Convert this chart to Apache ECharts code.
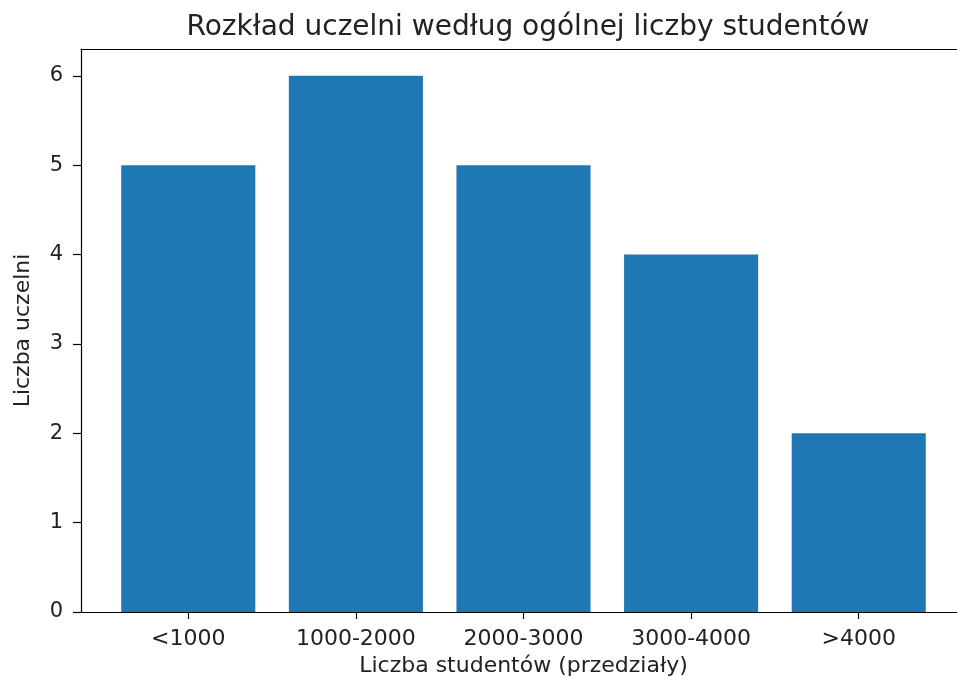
<!DOCTYPE html>
<html>
<head>
<meta charset="utf-8">
<script src="https://cdn.jsdelivr.net/npm/echarts@6/dist/echarts.min.js"></script>
<style>html,body{margin:0;padding:0;background:#fff;}#c{width:957px;height:677px;}</style>
</head>
<body>
<div id="c"></div>
<script>
const categories = ['<1000', '1000-2000', '2000-3000', '3000-4000', '>4000'];
const counts = [5, 6, 5, 4, 2];
const yTicks = [0, 1, 2, 3, 4, 5, 6];

const font = 'DejaVu Sans';
const gridLeft = 81, gridWidth = 885;
const xMin = -0.64, xMax = 4.64;
const barW = 0.8 * gridWidth / (xMax - xMin);

const chart = echarts.init(document.getElementById('c'));
chart.setOption({
  animation: false,
  backgroundColor: '#fff',
  title: {
    text: 'Rozkład uczelni według ogólnej liczby studentów',
    left: 523, top: 9, textAlign: 'center',
    textStyle: { fontFamily: font, fontSize: 28, fontWeight: 'normal', color: '#222' }
  },
  grid: { left: gridLeft, top: 49, width: gridWidth, bottom: 65, containLabel: false, outerBoundsMode: 'none' },
  xAxis: [{
    type: 'value', min: xMin, max: xMax,
    name: 'Liczba studentów (przedziały)', nameLocation: 'middle', nameGap: 43,
    nameTextStyle: { fontFamily: font, fontSize: 22, color: '#222' },
    splitLine: { show: false },
    axisLine: { show: true, onZero: false, lineStyle: { color: '#000', width: 1.2 } },
    axisTick: { show: true, customValues: categories.map((_, i) => i), length: 7, lineStyle: { color: '#000', width: 1.2 } },
    axisLabel: { customValues: categories.map((_, i) => i), formatter: v => categories[Math.round(v)] ?? '',
      margin: 16, fontFamily: font, fontSize: 22, color: '#222' }
  }, {
    type: 'value', min: xMin, max: xMax, position: 'top',
    splitLine: { show: false },
    axisLine: { show: true, onZero: false, lineStyle: { color: '#000', width: 1.2 } },
    axisTick: { show: false }, axisLabel: { show: false }
  }],
  yAxis: {
    type: 'value', min: 0, max: 6.3,
    name: 'Liczba uczelni', nameLocation: 'middle', nameGap: 47,
    nameTextStyle: { fontFamily: font, fontSize: 22, color: '#222' },
    splitLine: { show: false },
    axisLine: { show: true, onZero: false, lineStyle: { color: '#000', width: 1.2 } },
    axisTick: { show: true, customValues: yTicks, length: 8, lineStyle: { color: '#000', width: 1.2 } },
    axisLabel: { customValues: yTicks, margin: 18, fontFamily: font, fontSize: 21, color: '#222' }
  },
  series: [{
    type: 'bar',
    xAxisIndex: 0,
    barWidth: barW,
    itemStyle: { color: '#1f77b4' },
    data: counts.map((v, i) => [i, v])
  }]
});
</script>
</body>
</html>
